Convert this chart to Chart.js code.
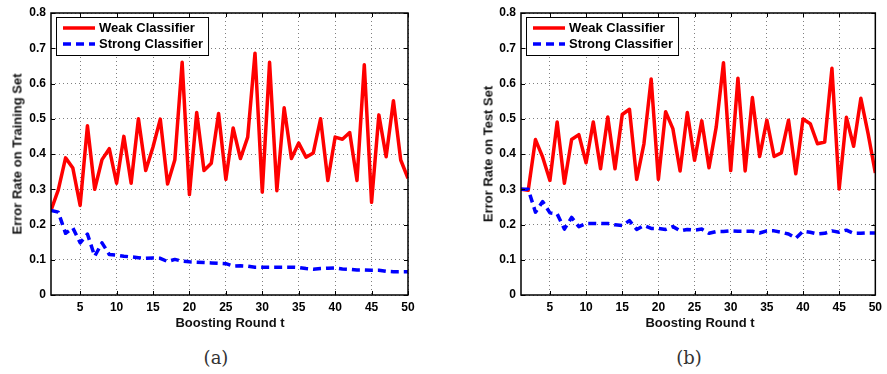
<!DOCTYPE html>
<html><head><meta charset="utf-8">
<script src="https://cdn.jsdelivr.net/npm/chart.js@4.4.0/dist/chart.umd.min.js"></script>
<style>
html,body{margin:0;padding:0;background:#fff;}
#wrap{position:relative;width:887px;height:374px;overflow:hidden;font-family:"Liberation Sans",Arial,sans-serif;}
canvas{position:absolute;top:0;}
.ytitle{position:absolute;font-weight:bold;font-size:13px;white-space:nowrap;transform:translate(-50%,-50%) rotate(-90deg);color:#111;}
.xtitle{position:absolute;font-weight:bold;font-size:13px;white-space:nowrap;transform:translate(-50%,-50%);color:#111;}
.cap{position:absolute;font-family:"DejaVu Serif","Liberation Serif",serif;font-size:18px;white-space:nowrap;transform:translate(-50%,-50%);color:#333;}
</style></head><body>
<div id="wrap">
<canvas id="c1" width="440" height="315" style="left:0px"></canvas>
<canvas id="c2" width="417" height="315" style="left:470px"></canvas>
<div class="ytitle" style="left:17px;top:154px">Error Rate on Training Set</div>
<div class="ytitle" style="left:488px;top:154px">Error Rate on Test Set</div>
<div class="xtitle" style="left:230px;top:322px">Boosting Round t</div>
<div class="xtitle" style="left:700px;top:322px">Boosting Round t</div>
<div class="cap" style="left:216px;top:357px">(a)</div>
<div class="cap" style="left:689px;top:357px">(b)</div>
</div>
<script>
const rounds = [1,2,3,4,5,6,7,8,9,10,11,12,13,14,15,16,17,18,19,20,21,22,23,24,25,26,27,28,29,30,31,32,33,34,35,36,37,38,39,40,41,42,43,44,45,46,47,48,49,50];
const xTicks = [5,10,15,20,25,30,35,40,45,50];
const yTicks = [0,0.1,0.2,0.3,0.4,0.5,0.6,0.7,0.8];
const seriesNames = ['Weak Classifier','Strong Classifier'];

const weakTrain = [0.24,0.298,0.389,0.36,0.254,0.48,0.30,0.384,0.415,0.317,
  0.45,0.317,0.50,0.353,0.42,0.499,0.315,0.384,0.66,0.285,
  0.518,0.353,0.374,0.515,0.328,0.474,0.387,0.448,0.686,0.292,
  0.66,0.296,0.531,0.387,0.431,0.391,0.403,0.50,0.325,0.448,
  0.442,0.461,0.325,0.653,0.263,0.511,0.392,0.551,0.383,0.331];
const strongTrain = [0.24,0.235,0.175,0.19,0.148,0.173,0.11,0.148,0.115,0.113,
  0.11,0.108,0.106,0.104,0.105,0.104,0.095,0.101,0.096,0.094,
  0.093,0.092,0.091,0.09,0.089,0.082,0.083,0.082,0.079,0.079,
  0.079,0.079,0.079,0.079,0.078,0.075,0.073,0.075,0.076,0.077,
  0.074,0.073,0.071,0.071,0.07,0.07,0.067,0.066,0.066,0.066];
const weakTest = [0.30,0.297,0.441,0.391,0.325,0.491,0.317,0.441,0.455,0.375,
  0.491,0.358,0.505,0.358,0.512,0.527,0.328,0.429,0.613,0.328,
  0.52,0.472,0.352,0.518,0.382,0.494,0.361,0.477,0.659,0.353,
  0.615,0.352,0.56,0.393,0.496,0.393,0.403,0.496,0.344,0.499,
  0.486,0.429,0.434,0.643,0.301,0.504,0.422,0.558,0.458,0.346];
const strongTest = [0.30,0.30,0.235,0.265,0.233,0.23,0.187,0.22,0.194,0.203,
  0.203,0.203,0.203,0.199,0.197,0.211,0.186,0.197,0.189,0.189,
  0.186,0.194,0.182,0.186,0.184,0.187,0.175,0.18,0.18,0.182,
  0.181,0.181,0.181,0.176,0.182,0.182,0.178,0.173,0.161,0.181,
  0.178,0.173,0.175,0.182,0.178,0.184,0.175,0.175,0.176,0.176];

const FONT = '"Liberation Sans", Arial, Helvetica, sans-serif';
Chart.defaults.font.family = FONT;
Chart.defaults.color = '#000';

const framePlugin = {
  id: 'frame',
  afterDatasetsDraw(chart) {
    const ctx = chart.ctx, a = chart.chartArea;
    ctx.save();
    ctx.strokeStyle = '#000';
    ctx.lineWidth = 1.5;
    ctx.setLineDash([]);
    ctx.strokeRect(a.left, a.top, a.right - a.left, a.bottom - a.top);
    ctx.lineWidth = 1;
    ctx.beginPath();
    chart.scales.x.ticks.forEach(t => {
      const px = Math.round(chart.scales.x.getPixelForValue(t.value)) + 0.5;
      ctx.moveTo(px, a.bottom); ctx.lineTo(px, a.bottom - 4);
      ctx.moveTo(px, a.top); ctx.lineTo(px, a.top + 4);
    });
    chart.scales.y.ticks.forEach(t => {
      const py = Math.round(chart.scales.y.getPixelForValue(t.value)) + 0.5;
      ctx.moveTo(a.left, py); ctx.lineTo(a.left + 4, py);
      ctx.moveTo(a.right, py); ctx.lineTo(a.right - 4, py);
    });
    ctx.stroke();
    const ds = chart.data.datasets;
    ctx.font = 'bold 13px ' + FONT;
    const bx = a.left + 5, by = a.top + 4;
    const tx = a.left + 48;
    let maxW = 0;
    ds.forEach(d => { maxW = Math.max(maxW, ctx.measureText(d.label).width); });
    const bw = tx + maxW + 5 - bx, bh = 38;
    ctx.fillStyle = '#fff';
    ctx.fillRect(bx, by, bw, bh);
    ctx.strokeStyle = '#000';
    ctx.lineWidth = 1;
    ctx.strokeRect(bx + 0.5, by + 0.5, bw, bh);
    ds.forEach((d, i) => {
      const ry = a.top + 15 + i * 16;
      ctx.beginPath();
      ctx.strokeStyle = d.borderColor;
      ctx.lineWidth = d.borderWidth;
      ctx.setLineDash(d.borderDash || []);
      ctx.moveTo(a.left + 12, ry);
      ctx.lineTo(a.left + 44, ry);
      ctx.stroke();
      ctx.setLineDash([]);
      ctx.fillStyle = '#000';
      ctx.textBaseline = 'middle';
      ctx.textAlign = 'left';
      ctx.fillText(d.label, tx, ry + 0.5);
    });
    ctx.restore();
  }
};

function makeChart(id, weak, strong, rightPad) {
  const gridOpts = { color: 'rgba(0,0,0,0.5)', lineWidth: 1, drawTicks: false };
  const borderOpts = { display: false, dash: [1, 3] };
  return new Chart(document.getElementById(id), {
    type: 'line',
    data: {
      datasets: [
        { label: seriesNames[0], data: rounds.map((r, i) => ({ x: r, y: weak[i] })),
          borderColor: '#ff0000', borderWidth: 3.5, pointRadius: 0, tension: 0,
          borderJoinStyle: 'round', fill: false, order: 2 },
        { label: seriesNames[1], data: rounds.map((r, i) => ({ x: r, y: strong[i] })),
          borderColor: '#0000ff', borderWidth: 3.5, borderDash: [8, 5], pointRadius: 0, tension: 0,
          borderJoinStyle: 'round', fill: false, order: 1 }
      ]
    },
    options: {
      responsive: false, animation: false, devicePixelRatio: 1,
      layout: { padding: { top: 13, right: rightPad, left: 0, bottom: 0 } },
      plugins: { legend: { display: false }, tooltip: { enabled: false } },
      scales: {
        x: {
          type: 'linear', min: 1, max: 50,
          afterBuildTicks: s => { s.ticks = xTicks.map(v => ({ value: v })); },
          afterFit: s => { s.height = 20; },
          ticks: { font: { size: 12, weight: 'bold' }, color: '#000', padding: 5, maxRotation: 0, autoSkip: false },
          grid: gridOpts, border: borderOpts
        },
        y: {
          type: 'linear', min: 0, max: 0.8,
          afterBuildTicks: s => { s.ticks = yTicks.map(v => ({ value: v })); },
          afterFit: s => { s.width = 51; },
          ticks: { font: { size: 12, weight: 'bold' }, color: '#000', padding: 5,
                   callback: v => (v === 0 ? '0' : Number(v).toFixed(1)) },
          grid: gridOpts, border: borderOpts
        }
      }
    },
    plugins: [framePlugin]
  });
}

makeChart('c1', weakTrain, strongTrain, 32);
makeChart('c2', weakTest, strongTest, 9);
</script>
</body></html>
